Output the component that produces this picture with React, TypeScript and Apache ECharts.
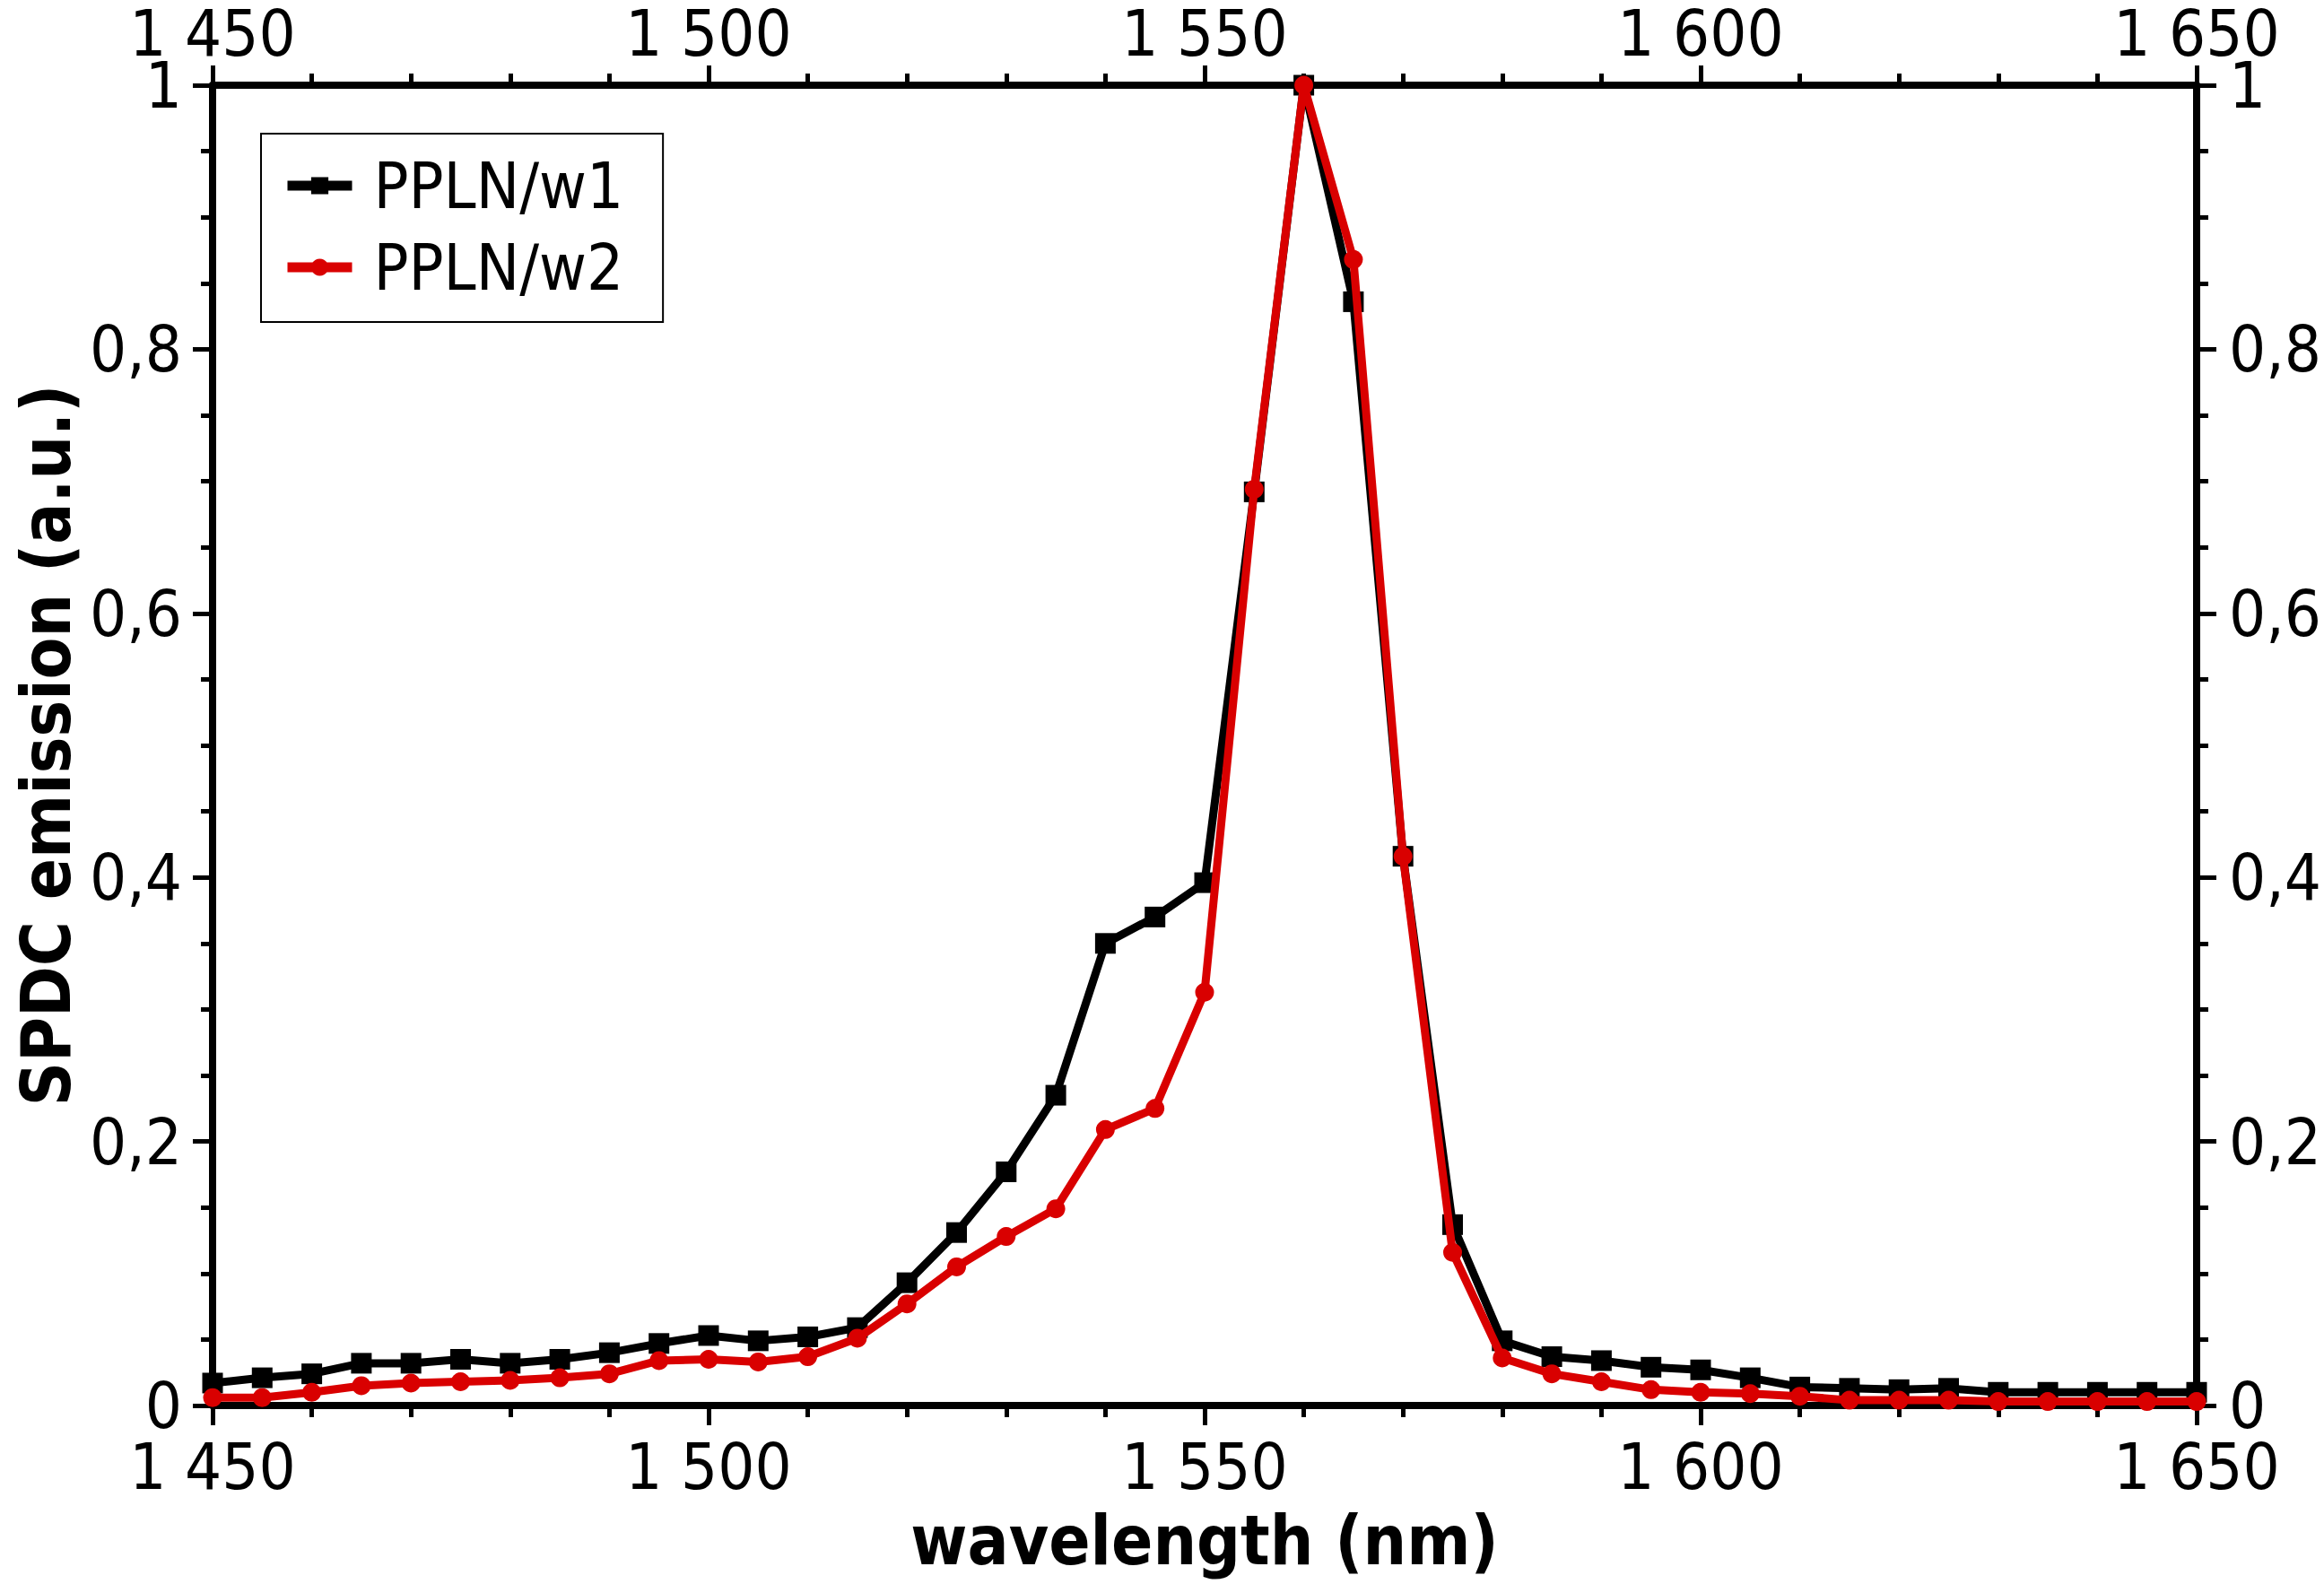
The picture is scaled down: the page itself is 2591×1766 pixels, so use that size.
import React, { useEffect, useRef } from "react";
import * as echarts from "echarts";

const wavelengths = [
  1450, 1455, 1460, 1465, 1470, 1475, 1480, 1485, 1490, 1495,
  1500, 1505, 1510, 1515, 1520, 1525, 1530, 1535, 1540, 1545,
  1550, 1555, 1560, 1565, 1570, 1575, 1580, 1585, 1590, 1595,
  1600, 1605, 1610, 1615, 1620, 1625, 1630, 1635, 1640, 1645, 1650,
];

const pplnW1 = [
  0.017, 0.021, 0.024, 0.032, 0.032, 0.035, 0.032, 0.035, 0.040, 0.047,
  0.053, 0.049, 0.052, 0.059, 0.093, 0.131, 0.177, 0.235, 0.350, 0.370,
  0.396, 0.692, 1.0, 0.836, 0.416, 0.137, 0.049, 0.037, 0.034, 0.029,
  0.027, 0.021, 0.014, 0.013, 0.012, 0.013, 0.010, 0.010, 0.010, 0.010, 0.010,
];

const pplnW2 = [
  0.006, 0.006, 0.010, 0.015, 0.017, 0.018, 0.019, 0.021, 0.024, 0.034,
  0.035, 0.033, 0.037, 0.051, 0.077, 0.105, 0.128, 0.149, 0.209, 0.225,
  0.313, 0.694, 1.0, 0.868, 0.416, 0.116, 0.036, 0.024, 0.018, 0.012,
  0.010, 0.009, 0.007, 0.004, 0.004, 0.004, 0.003, 0.003, 0.003, 0.003, 0.003,
];

const seriesNames = ["PPLN/w1", "PPLN/w2"];
const xTitle = "wavelength (nm)";
const yTitle = "SPDC emission (a.u.)";

const FONT = "'DejaVu Sans Condensed', 'DejaVu Sans', sans-serif";
const RED = "#d90000";

const fmtX = (v: number) => {
  const s = String(Math.round(v));
  return s.length > 3 ? s.slice(0, s.length - 3) + " " + s.slice(-3) : s;
};
const fmtY = (v: number) => {
  if (Math.abs(v) < 1e-9) return "0";
  if (Math.abs(v - 1) < 1e-9) return "1";
  return v.toFixed(1).replace(".", ",");
};

export default function App() {
  const ref = useRef<HTMLDivElement>(null);

  useEffect(() => {
    if (!ref.current) return;
    const chart = echarts.init(ref.current, undefined, { renderer: "svg" });

    const axisLine = { show: true, onZero: false, lineStyle: { color: "#000", width: 8 } };
    const axisTick = { show: true, inside: false, length: 22, lineStyle: { color: "#000", width: 5 } };
    const minorTickX = { show: true, splitNumber: 5, length: 13, lineStyle: { color: "#000", width: 5 } };
    const minorTickY = { show: true, splitNumber: 4, length: 13, lineStyle: { color: "#000", width: 5 } };
    const labelStyle = { fontFamily: FONT, fontSize: 72, lineHeight: 60, color: "#000" };

    const xBase = {
      type: "value" as const,
      min: 1450,
      max: 1650,
      interval: 50,
      axisLine,
      axisTick,
      minorTick: minorTickX,
      splitLine: { show: false },
      minorSplitLine: { show: false },
    };
    const yBase = {
      type: "value" as const,
      min: 0,
      max: 1,
      interval: 0.2,
      axisLine,
      axisTick,
      minorTick: minorTickY,
      splitLine: { show: false },
      minorSplitLine: { show: false },
    };

    chart.setOption({
      animation: false,
      backgroundColor: "#fff",
      grid: { left: 237, right: 142, top: 95, bottom: 199, containLabel: false },
      legend: {
        orient: "vertical",
        left: 291,
        top: 149,
        padding: [18, 44, 21, 24],
        itemGap: 11,
        itemWidth: 72,
        itemHeight: 24,
        borderColor: "#000",
        borderWidth: 2,
        backgroundColor: "#fff",
        lineStyle: { width: 11 },
        textStyle: { fontFamily: FONT, fontSize: 72, color: "#000", lineHeight: 80, padding: [0, 0, 0, 19] },
        data: seriesNames,
      },
      xAxis: [
        {
          ...xBase,
          position: "bottom",
          name: xTitle,
          nameLocation: "middle",
          nameGap: 112,
          nameTextStyle: { fontFamily: FONT, fontSize: 76, fontWeight: "bold", color: "#000" },
          axisLabel: { ...labelStyle, margin: 38, formatter: fmtX },
        },
        {
          ...xBase,
          position: "top",
          axisLabel: { ...labelStyle, margin: 28, formatter: fmtX },
        },
      ],
      yAxis: [
        {
          ...yBase,
          position: "left",
          name: yTitle,
          nameLocation: "middle",
          nameGap: 140,
          nameTextStyle: { fontFamily: FONT, fontSize: 76, fontWeight: "bold", color: "#000" },
          axisLabel: { ...labelStyle, margin: 34, formatter: fmtY },
        },
        {
          ...yBase,
          position: "right",
          axisLabel: { ...labelStyle, margin: 36, formatter: fmtY },
        },
      ],
      series: [
        {
          name: seriesNames[0],
          type: "line",
          xAxisIndex: 0,
          yAxisIndex: 0,
          data: wavelengths.map((w, i) => [w, pplnW1[i]]),
          symbol: "rect",
          symbolSize: 23,
          showAllSymbol: true,
          lineStyle: { color: "#000", width: 9 },
          itemStyle: { color: "#000" },
          z: 2,
        },
        {
          name: seriesNames[1],
          type: "line",
          xAxisIndex: 0,
          yAxisIndex: 0,
          data: wavelengths.map((w, i) => [w, pplnW2[i]]),
          symbol: "circle",
          symbolSize: 21,
          showAllSymbol: true,
          lineStyle: { color: RED, width: 9 },
          itemStyle: { color: RED },
          z: 3,
        },
      ],
    });

    return () => chart.dispose();
  }, []);

  return (
    <div
      ref={ref}
      style={{ position: "fixed", left: 0, top: 0, width: 2591, height: 1766, background: "#fff" }}
    />
  );
}
